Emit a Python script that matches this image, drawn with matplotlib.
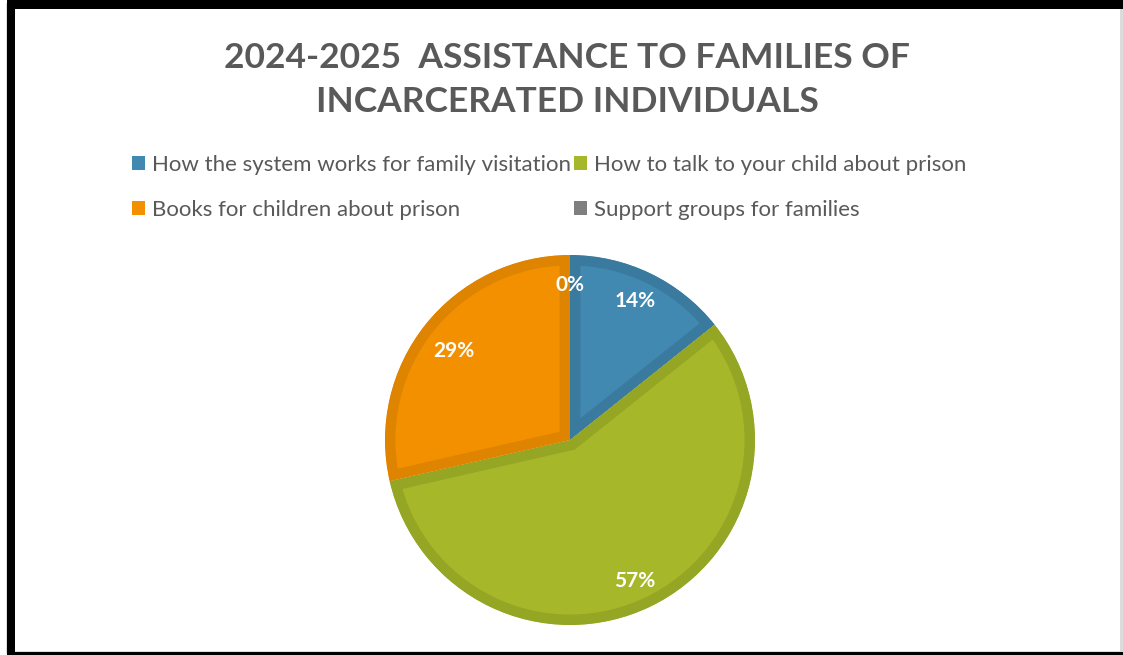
import matplotlib.pyplot as plt
from matplotlib.patches import Rectangle, Patch

labels = ["How the system works for family visitation",
          "How to talk to your child about prison",
          "Books for children about prison",
          "Support groups for families"]
values = [1, 4, 2, 0]
fills = ["#4189B0", "#A6B729", "#F39000", "#7F7F7F"]
edges = ["#3A7A9E", "#95A524", "#DF8400", "#707070"]

plt.rcParams['font.family'] = ['Lato', 'DejaVu Sans']
fig = plt.figure(figsize=(11.23, 6.55), dpi=100)

# frame round the chart
fig.patches.append(Rectangle((0, 0), 1, 1, transform=fig.transFigure,
                             facecolor="white", edgecolor="none", zorder=-3))
fig.patches.append(Rectangle((7 / 1123, 3 / 655), 1114 / 1123, 648 / 655,
                             transform=fig.transFigure, facecolor="none",
                             edgecolor="#D9D9D9", linewidth=2, zorder=-1))
fig.patches.append(Rectangle((7 / 1123, 0), 8 / 1123, 1, transform=fig.transFigure,
                             facecolor="black", edgecolor="none"))
fig.patches.append(Rectangle((7 / 1123, 646 / 655), 1116 / 1123, 9 / 655,
                             transform=fig.transFigure, facecolor="black", edgecolor="none"))
fig.patches.append(Rectangle((7 / 1123, 0), 1116 / 1123, 3 / 655,
                             transform=fig.transFigure, facecolor="black", edgecolor="none"))

fig.text(0.505, 0.878, "2024-2025  ASSISTANCE TO FAMILIES OF\nINCARCERATED INDIVIDUALS",
         ha="center", va="center", fontsize=25.5, fontweight="bold",
         color="#595959", linespacing=1.45)

# pie
ax = fig.add_axes([(570 - 185) / 1123, (655 - 440 - 185) / 655, 370 / 1123, 370 / 655])
total = sum(values)
wedges, _ = ax.pie(values, colors=fills, startangle=90, counterclock=False,
                   radius=1)
for w, ec, v in zip(wedges, edges, values):
    w.set_edgecolor(ec)
    w.set_linewidth(15 if v > 0 else 0)
    w.set_clip_on(True)
    w.set_clip_path(w)
ax.set_xlim(-1, 1)
ax.set_ylim(-1, 1)
ax.set_aspect("equal")
ax.axis("off")

# data labels
label_pos = [(0.35, 0.75), (0.35, -0.76), (-0.63, 0.48), (0.0, 0.84)]
for v, (x, y) in zip(values, label_pos):
    ax.text(x, y, "{:.0f}%".format(100 * v / total), ha="center", va="center",
            fontsize=15, fontweight="bold", color="white")

# legend
order = [0, 2, 1, 3]
handles = [Patch(facecolor=fills[i], edgecolor="none") for i in order]
fig.legend(handles, [labels[i] for i in order], ncol=2, loc="center",
           bbox_to_anchor=(0.489, 0.714), frameon=False, fontsize=16,
           labelcolor="#595959", handlelength=0.6, handleheight=0.6,
           handletextpad=0.3, columnspacing=0.15, labelspacing=1.15)

fig.savefig("out.png", dpi=100)
